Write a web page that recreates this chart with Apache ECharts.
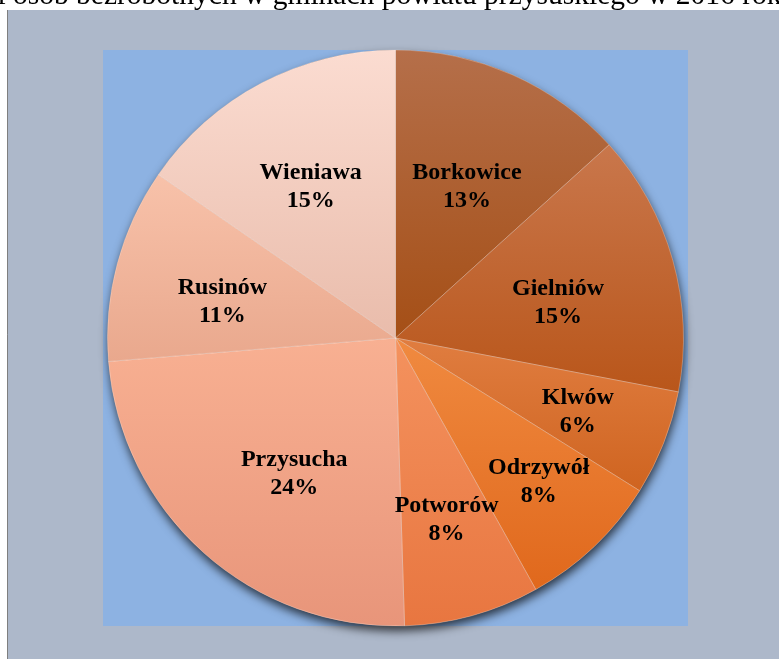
<!DOCTYPE html>
<html>
<head>
<meta charset="utf-8">
<script src="https://cdn.jsdelivr.net/npm/echarts@6/dist/echarts.min.js"></script>
<style>html,body{margin:0;padding:0;background:#fff;}#c{width:779px;height:659px;}</style>
</head>
<body>
<div id="c"></div>
<script>
const titleText = 'Udział osób bezrobotnych w gminach powiatu przysuskiego w 2016 roku';
const names = ['Borkowice', 'Gielniów', 'Klwów', 'Odrzywół', 'Potworów', 'Przysucha', 'Rusinów', 'Wieniawa'];
const shares = [13.3, 14.7, 5.9, 8.0, 7.6, 24.2, 10.9, 15.4];
const topColors = ['#b56f4a', '#c9774c', '#e07d40', '#f08a40', '#f4925e', '#f8b092', '#f8c2aa', '#fbdcd1'];
const bottomColors = ['#a54f16', '#b9561a', '#cf6420', '#e0681c', '#e87640', '#e8957a', '#e9a88d', '#e9bcab'];

// label placement (layout only)
const fartherLabels = ['Klwów', 'Odrzywół', 'Potworów'];
const labelShift = {
  'Borkowice': [0, 10], 'Gielniów': [-7, 12], 'Klwów': [-3, 1], 'Odrzywół': [6, 0],
  'Potworów': [-2, -10], 'Przysucha': [16, 5], 'Rusinów': [-3, 9], 'Wieniawa': [-3, 5]
};

const R = 288;
const center = [395.5, 338];

function grad(i) {
  return { type: 'linear', x: 0, y: 0, x2: 0, y2: 1,
    colorStops: [{ offset: 0, color: topColors[i] }, { offset: 1, color: bottomColors[i] }] };
}
const mainData = names.map((n, i) => ({ name: n, value: shares[i], itemStyle: { color: grad(i) } }));
function labelData(showFn) {
  return names.map((n, i) => ({ name: n, value: shares[i], label: { show: showFn(n), offset: labelShift[n] } }));
}
const labelStyle = {
  position: 'inside', formatter: '{b}\n{d}%', color: '#000',
  fontFamily: '"Liberation Serif", "Times New Roman", serif', fontWeight: 'bold',
  fontSize: 24, lineHeight: 28
};
const chart = echarts.init(document.getElementById('c'), null, { renderer: 'canvas' });
chart.setOption({
  animation: false,
  backgroundColor: '#ffffff',
  graphic: [
    { type: 'text', z: -5, left: -73, top: -19,
      style: { text: titleText, font: '29.5px "Liberation Serif", "Times New Roman", serif', fill: '#000' } },
    { type: 'rect', z: -4, shape: { x: 7, y: 10, width: 780, height: 660 },
      style: { fill: '#adb8ca' } },
    { type: 'line', z: -4, shape: { x1: 7.5, y1: 10, x2: 7.5, y2: 659 },
      style: { stroke: '#7f7f7f', lineWidth: 1 } },
    { type: 'rect', z: -3, shape: { x: 103, y: 50, width: 585, height: 576 },
      style: { fill: '#8db2e2' } }
  ],
  series: [
    { type: 'pie', z: 1, silent: true, center: center, radius: [0, R], label: { show: false },
      data: [{ value: 1, itemStyle: { color: '#9a7060', shadowBlur: 10, shadowOffsetX: 1, shadowOffsetY: 5, shadowColor: 'rgba(0,0,0,0.7)' } }] },
    { type: 'pie', z: 2, silent: true, center: center, radius: [0, R], startAngle: 90, clockwise: true,
      label: { show: false }, labelLine: { show: false },
      itemStyle: { borderColor: 'rgba(255,255,255,0.25)', borderWidth: 1 },
      data: mainData },
    { type: 'pie', z: 3, silent: true, center: center, radius: [58, R], startAngle: 90, clockwise: true,
      avoidLabelOverlap: false, labelLayout: { hideOverlap: false },
      percentPrecision: 0, itemStyle: { color: 'transparent' }, label: labelStyle, labelLine: { show: false },
      data: labelData(n => fartherLabels.indexOf(n) < 0) },
    { type: 'pie', z: 3, silent: true, center: center, radius: [104, R], startAngle: 90, clockwise: true,
      avoidLabelOverlap: false, labelLayout: { hideOverlap: false },
      percentPrecision: 0, itemStyle: { color: 'transparent' }, label: labelStyle, labelLine: { show: false },
      data: labelData(n => fartherLabels.indexOf(n) >= 0) }
  ]
});
</script>
</body>
</html>
